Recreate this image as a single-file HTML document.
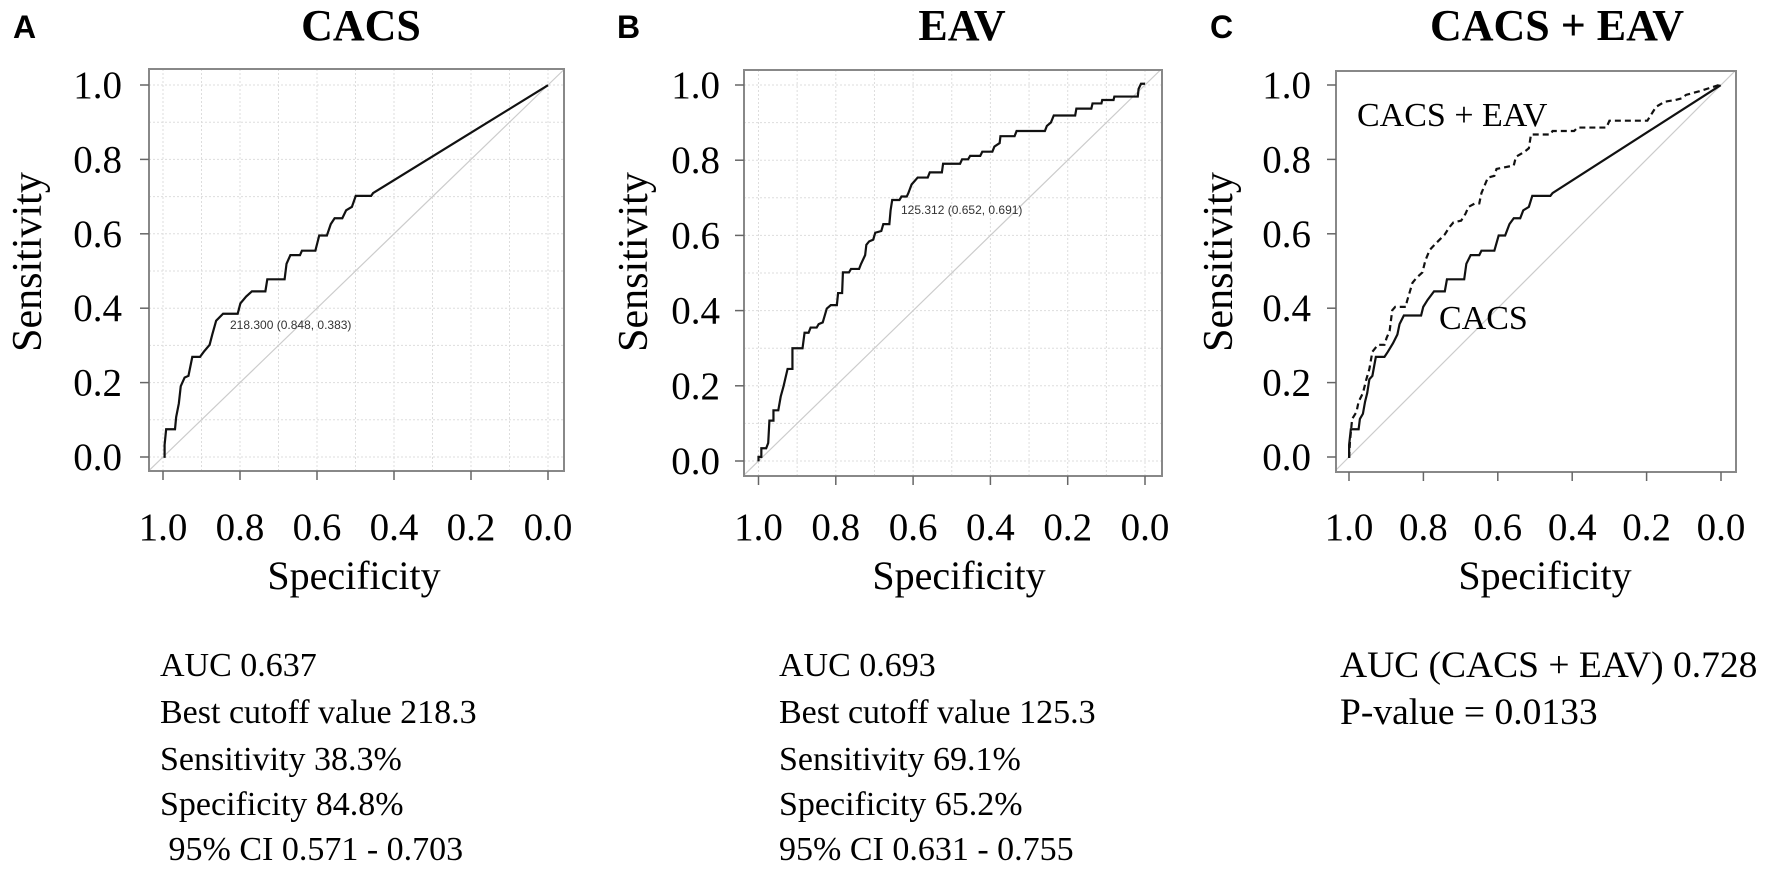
<!DOCTYPE html>
<html><head><meta charset="utf-8"><style>
html,body{margin:0;padding:0;background:#fff;}
svg{display:block;}
</style></head><body>
<svg id="s" width="1772" height="871" xmlns="http://www.w3.org/2000/svg" font-family="Liberation Serif, serif">
<g font-family="Liberation Sans, sans-serif" font-weight="bold" font-size="32">
<text x="13" y="38">A</text><text x="617" y="38">B</text><text x="1210" y="38">C</text>
</g>
<g font-weight="bold" font-size="44" text-anchor="middle">
<text x="361" y="40">CACS</text><text x="962" y="40">EAV</text><text x="1557" y="40">CACS + EAV</text>
</g>
<g id="panels"></g>
<g font-size="40" text-anchor="middle">
<text x="354" y="589">Specificity</text><text x="959" y="589">Specificity</text><text x="1545" y="589">Specificity</text>
</g>
<g font-size="42" text-anchor="middle">
<text transform="translate(41,262) rotate(-90)">Sensitivity</text>
<text transform="translate(647,262) rotate(-90)">Sensitivity</text>
<text transform="translate(1232,262) rotate(-90)">Sensitivity</text>
</g>
<g font-size="34">
<text x="160" y="676">AUC 0.637</text>
<text x="160" y="723">Best cutoff value 218.3</text>
<text x="160" y="770">Sensitivity 38.3%</text>
<text x="160" y="815">Specificity 84.8%</text>
<text x="160" y="860" xml:space="preserve"> 95% CI 0.571 - 0.703</text>
<text x="779" y="676">AUC 0.693</text>
<text x="779" y="723">Best cutoff value 125.3</text>
<text x="779" y="770">Sensitivity 69.1%</text>
<text x="779" y="815">Specificity 65.2%</text>
<text x="779" y="860">95% CI 0.631 - 0.755</text>
</g>
<g font-size="37.5">
<text x="1340" y="677">AUC (CACS + EAV) 0.728</text>
<text x="1340" y="724">P-value = 0.0133</text>
</g>
<g font-family="Liberation Sans, sans-serif" font-size="12" fill="#333">
<text x="230" y="329">218.300 (0.848, 0.383)</text>
<text x="901" y="214">125.312 (0.652, 0.691)</text>
</g>
<g font-size="34">
<text x="1357" y="126">CACS + EAV</text>
<text x="1439" y="329">CACS</text>
</g>
<g fill="none" stroke="#111" stroke-width="2.2">
<polyline vector-effect="non-scaling-stroke" transform="scale(0.3846,0.3448)" points="428,1328 428,1290 432,1245 455,1245 458,1210 465,1170 470,1120 480,1095 490,1090 500,1035 520,1035 530,1020 545,1000 552,970 562,930 580,910 618,910 625,880 640,860 655,845 690,845 695,810 740,810 745,765 755,740 780,740 785,727 820,727 825,705 830,683 850,683 860,650 870,633 890,633 900,610 915,600 925,568 965,568 970,560 1425,247"/>
<polyline vector-effect="non-scaling-stroke" transform="translate(540,0) scale(0.4039,0.3448)" points="541,1338 541,1325 548,1325 548,1300 560,1300 565,1285 568,1220 578,1220 578,1190 590,1190 596,1150 603,1120 608,1095 613,1070 625,1070 625,1010 650,1010 655,965 665,965 670,950 685,950 690,940 700,935 710,895 720,885 735,885 738,850 748,850 750,790 765,790 770,780 790,780 795,765 805,740 808,710 815,700 825,695 830,675 845,670 850,650 865,650 868,610 872,580 890,580 895,570 908,570 912,560 920,535 935,515 960,515 965,500 995,500 998,475 1040,475 1045,462 1060,462 1065,452 1090,452 1095,440 1120,440 1125,425 1138,415 1140,395 1175,395 1180,380 1250,380 1255,365 1265,355 1272,335 1325,335 1328,315 1365,315 1368,300 1390,300 1392,290 1420,290 1422,280 1480,280 1482,258 1488,243 1498,243"/>
<polyline vector-effect="non-scaling-stroke" transform="translate(1100,0) scale(0.431,0.3448)" points="578,1328 578,1290 582,1245 600,1245 603,1215 610,1200 615,1165 620,1140 625,1100 632,1090 640,1035 660,1035 668,1020 680,995 690,970 695,940 705,915 745,915 750,890 760,870 775,845 800,845 805,810 845,810 850,765 860,740 880,740 885,727 915,727 920,705 925,683 940,683 950,650 960,633 975,633 982,610 995,600 1003,568 1045,568 1050,560 1440,247"/>
<polyline vector-effect="non-scaling-stroke" stroke-dasharray="6,4" transform="translate(1100,0) scale(0.431,0.3448)" points="578,1328 580,1280 585,1215 595,1195 600,1165 610,1140 618,1100 625,1070 632,1020 645,1000 660,1000 665,980 672,960 678,900 685,890 710,890 712,875 725,820 735,805 748,790 755,755 765,725 780,705 800,680 810,660 820,645 838,640 848,620 855,600 870,590 880,590 885,560 900,515 915,510 920,490 960,480 965,455 985,440 995,430 1000,390 1045,390 1050,380 1100,380 1108,370 1175,370 1182,350 1270,350 1280,330 1290,310 1310,295 1335,290 1350,285 1360,275 1390,265 1440,245"/>
</g>
</svg>
<script>
var P=[
 {L:149,T:69,R:564,B:471,x0:548,xs:385,y0:457,ys:372,lab:122,grid:true},
 {L:744,T:70,R:1162,B:476,x0:1145,xs:386.5,y0:461,ys:376,lab:720,grid:true},
 {L:1336,T:71,R:1736,B:472,x0:1721,xs:372,y0:457,ys:372,lab:1311,grid:false}
];
var h='';
P.forEach(function(p){
 if(p.grid){
  for(var i=0;i<=10;i++){
   var x=p.x0-p.xs*i/10, y=p.y0-p.ys*i/10;
   h+='<line x1="'+x+'" y1="'+p.T+'" x2="'+x+'" y2="'+p.B+'" stroke="#ddd" stroke-width="1" stroke-dasharray="2,2"/>';
   h+='<line x1="'+p.L+'" y1="'+y+'" x2="'+p.R+'" y2="'+y+'" stroke="#ddd" stroke-width="1" stroke-dasharray="2,2"/>';
  }
 }
 var t=(p.x0-p.L)/p.xs;
 var s2=(p.y0-p.T)/p.ys;
 h+='<line x1="'+p.L+'" y1="'+(p.y0-p.ys*(1-t))+'" x2="'+(p.x0-p.xs*(1-s2))+'" y2="'+p.T+'" stroke="#ccc" stroke-width="1.2"/>';
 h+='<rect x="'+p.L+'" y="'+p.T+'" width="'+(p.R-p.L)+'" height="'+(p.B-p.T)+'" fill="none" stroke="#888" stroke-width="2"/>';
 for(var k=0;k<=5;k++){
  var v=k/5, x=p.x0-p.xs*v, y=p.y0-p.ys*v;
  h+='<line x1="'+x+'" y1="'+p.B+'" x2="'+x+'" y2="'+(p.B+9)+'" stroke="#666" stroke-width="1.5"/>';
  h+='<line x1="'+(p.L-9)+'" y1="'+y+'" x2="'+p.L+'" y2="'+y+'" stroke="#666" stroke-width="1.5"/>';
  h+='<text x="'+x+'" y="540" font-size="39" text-anchor="middle">'+v.toFixed(1)+'</text>';
  h+='<text x="'+p.lab+'" y="'+(y+13)+'" font-size="39" text-anchor="end">'+v.toFixed(1)+'</text>';
 }
});
document.getElementById('panels').innerHTML=h;
</script>
</body></html>
